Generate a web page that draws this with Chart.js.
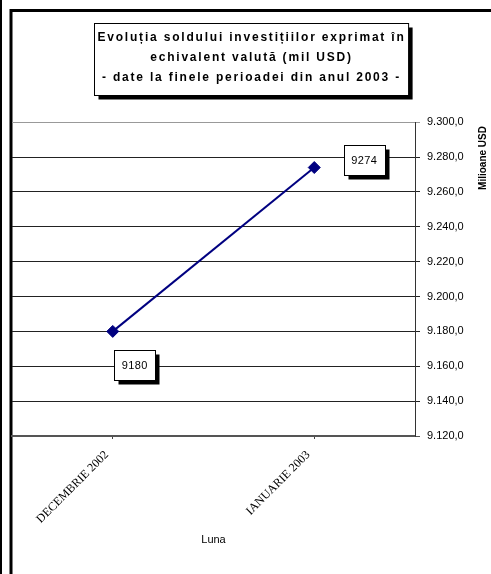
<!DOCTYPE html>
<html>
<head>
<meta charset="utf-8">
<script src="https://cdn.jsdelivr.net/npm/chart.js@4/dist/chart.umd.min.js"></script>
<style>
  html, body { margin: 0; padding: 0; background: #fff; }
  canvas { display: block; }
</style>
</head>
<body>
<canvas id="grafic" width="491" height="574"></canvas>
<script>
// date
var luni = ["DECEMBRIE 2002", "IANUARIE 2003"];
var sold = [9180, 9274];
var titlu = [
  "Evoluția soldului investițiilor exprimat în",
  "echivalent valută (mil USD)",
  "- date la finele perioadei din anul 2003 -"
];
var titluAxaY = "Milioane USD";
var titluAxaX = "Luna";

var SPATIERE_TITLU = "1.8px";

function formatRo(v) {
  var s = v.toFixed(1).split(".");
  s[0] = s[0].replace(/\B(?=(\d{3})+(?!\d))/g, ".");
  return s[0] + "," + s[1];
}

// chenare exterioare + caseta titlului
var chenare = {
  id: "chenare",
  beforeDraw: function (chart) {
    var ctx = chart.ctx;
    var tb = chart.titleBlock;

    // titlul cu litere mai rarefiate, ca in Excel
    if (tb && !tb._spatiat) {
      var drawOrig = tb.draw.bind(tb);
      tb.draw = function () {
        ctx.save();
        ctx.letterSpacing = SPATIERE_TITLU;
        drawOrig();
        ctx.restore();
      };
      tb._spatiat = true;
    }

    ctx.save();
    ctx.strokeStyle = "#000";
    ctx.lineWidth = 2;
    ctx.beginPath();
    ctx.moveTo(1, 0);
    ctx.lineTo(1, 574);
    ctx.stroke();
    ctx.lineWidth = 3;
    ctx.beginPath();
    ctx.moveTo(11, 574);
    ctx.lineTo(11, 10.5);
    ctx.lineTo(491, 10.5);
    ctx.stroke();

    var lh = 20.4;
    var first = tb.top + 27 + lh / 2;
    ctx.font = "bold 12px 'Liberation Sans', Arial";
    ctx.letterSpacing = SPATIERE_TITLU;
    var w = 0;
    titlu.forEach(function (t) { w = Math.max(w, ctx.measureText(t).width); });
    ctx.letterSpacing = "0px";
    w += 6;
    var cx = (tb.left + tb.right) / 2;
    var x0 = Math.round(cx - w / 2) + 0.5;
    var y0 = Math.round(first - 14) + 0.5;
    var h = Math.round(2 * lh + 31);
    ctx.fillStyle = "#000";
    ctx.fillRect(x0 + 4, y0 + 4, w, h);
    ctx.fillStyle = "#fff";
    ctx.fillRect(x0, y0, w, h);
    ctx.lineWidth = 1;
    ctx.strokeRect(x0, y0, w, h);
    ctx.restore();
  },
  afterDraw: function (chart) {
    var ctx = chart.ctx;
    ctx.save();
    ctx.translate(483, 158);
    ctx.rotate(-Math.PI / 2);
    ctx.font = "bold 10px 'Liberation Sans', Arial";
    ctx.fillStyle = "#000";
    ctx.textAlign = "center";
    ctx.textBaseline = "middle";
    ctx.fillText(titluAxaY, 0, 0);
    ctx.restore();
  }
};

// etichete de valoare in casete cu umbra
var etichete = {
  id: "etichete",
  afterDatasetsDraw: function (chart, args, opts) {
    var ctx = chart.ctx;
    var meta = chart.getDatasetMeta(0);
    ctx.save();
    ctx.font = "11px 'Liberation Sans', Arial";
    ctx.letterSpacing = "0.4px";
    ctx.textAlign = "center";
    ctx.textBaseline = "middle";
    meta.data.forEach(function (pt, i) {
      var cx = pt.x + opts.dx[i];
      var cy = pt.y + opts.dy[i];
      var w = 41, h = 30;
      var x0 = Math.round(cx - w / 2) + 0.5;
      var y0 = Math.round(cy - h / 2) + 0.5;
      ctx.fillStyle = "#000";
      ctx.fillRect(x0 + 4, y0 + 4, w, h);
      ctx.fillStyle = "#fff";
      ctx.fillRect(x0, y0, w, h);
      ctx.strokeStyle = "#000";
      ctx.lineWidth = 1;
      ctx.strokeRect(x0, y0, w, h);
      ctx.fillStyle = "#000";
      ctx.fillText(String(Math.round(sold[i])), cx, cy + 1);
    });
    ctx.restore();
  }
};

new Chart(document.getElementById("grafic"), {
  type: "line",
  data: {
    labels: luni,
    datasets: [{
      data: sold,
      borderColor: "#000080",
      borderWidth: 2,
      backgroundColor: "#000080",
      pointStyle: "rectRot",
      pointRadius: 6,
      pointBorderWidth: 1,
      tension: 0
    }]
  },
  options: {
    responsive: false,
    animation: false,
    layout: { padding: { left: 12, right: 0, top: 0, bottom: 0 } },
    plugins: {
      legend: { display: false },
      tooltip: { enabled: false },
      title: {
        display: true,
        text: titlu,
        color: "#000",
        font: { family: "'Liberation Sans', Arial", size: 12, weight: "bold", lineHeight: 1.7 },
        padding: { top: 27, bottom: 34 }
      },
      etichete: { dx: [22, 50], dy: [34, -8] }
    },
    scales: {
      x: {
        offset: true,
        afterFit: function (s) { s.height = 138; },
        grid: { drawOnChartArea: false, tickLength: 3, color: "#444" },
        border: { color: "#555", width: 2 },
        ticks: {
          color: "#000",
          minRotation: 45,
          maxRotation: 45,
          padding: 9,
          labelOffset: -6,
          font: { family: "'Liberation Serif', 'Times New Roman'", size: 12 }
        },
        title: {
          display: true,
          text: titluAxaX,
          color: "#000",
          font: { family: "'Liberation Sans', Arial", size: 11 },
          padding: { top: 4, bottom: 27 }
        }
      },
      y: {
        position: "right",
        min: 9120,
        max: 9300,
        afterFit: function (s) { s.width = 76; },
        grid: {
          color: function (c) {
            if (c.index === 0) return "#555";
            if (c.tick && c.tick.value === 9300) return "#999";
            return "#222";
          },
          lineWidth: 1,
          tickLength: 5
        },
        border: { color: "#333", width: 1 },
        ticks: {
          stepSize: 20,
          padding: 7,
          color: "#000",
          font: { family: "'Liberation Sans', Arial", size: 11 },
          callback: function (v) { return formatRo(v); }
        }
      }
    }
  },
  plugins: [chenare, etichete]
});
</script>
</body>
</html>
